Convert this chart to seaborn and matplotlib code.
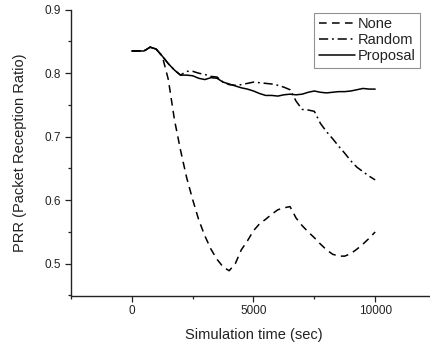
import numpy as np
import pandas as pd
import matplotlib
matplotlib.use("Agg")
import matplotlib.pyplot as plt
import matplotlib.ticker as mticker
import seaborn as sns

# data (every 250 s)
sim_time = list(range(0, 10001, 250))

prr_none = [0.835, 0.835, 0.835, 0.841, 0.838, 0.827, 0.790, 0.727, 0.679, 0.636,
            0.601, 0.569, 0.544, 0.523, 0.507, 0.495, 0.489, 0.500, 0.522, 0.536,
            0.552, 0.563, 0.570, 0.578, 0.585, 0.588, 0.590, 0.572, 0.560, 0.550,
            0.541, 0.531, 0.522, 0.515, 0.512, 0.512, 0.516, 0.523, 0.531, 0.540, 0.550]
prr_random = [0.835, 0.835, 0.835, 0.841, 0.838, 0.827, 0.815, 0.805, 0.797, 0.803,
              0.803, 0.800, 0.798, 0.795, 0.794, 0.786, 0.782, 0.781, 0.782, 0.784,
              0.786, 0.785, 0.784, 0.783, 0.781, 0.778, 0.774, 0.756, 0.743, 0.742,
              0.740, 0.721, 0.708, 0.697, 0.685, 0.674, 0.662, 0.652, 0.645, 0.638, 0.632]
prr_proposal = [0.835, 0.835, 0.835, 0.841, 0.838, 0.827, 0.815, 0.805, 0.797, 0.797,
                0.796, 0.792, 0.790, 0.793, 0.792, 0.786, 0.783, 0.780, 0.777, 0.775,
                0.772, 0.768, 0.765, 0.765, 0.764, 0.766, 0.767, 0.766, 0.767, 0.770,
                0.772, 0.770, 0.769, 0.770, 0.771, 0.771, 0.772, 0.774, 0.776, 0.775, 0.775]

series = {
    'None': (prr_none, (0, (5, 3.5))),
    'Random': (prr_random, (0, (6, 2.5, 1.2, 2.5))),
    'Proposal': (prr_proposal, '-'),
}

sns.set_theme(style="ticks")
plt.rcParams['font.family'] = ['Liberation Sans', 'DejaVu Sans']

fig = plt.figure(figsize=(4.31, 3.47), dpi=100)
ax = fig.add_axes([71 / 431, 1 - 295.5 / 347, 365 / 431, 285.8 / 347])

for name, (vals, ls) in series.items():
    sns.lineplot(x=sim_time, y=vals, ax=ax, color='black', linestyle=ls,
                 linewidth=1.1, label=name)

ax.set_xlim(-2500, 12500)
ax.set_ylim(0.45, 0.9)
ax.xaxis.set_major_locator(mticker.FixedLocator([0, 5000, 10000]))
ax.xaxis.set_minor_locator(mticker.MultipleLocator(2500))
ax.yaxis.set_major_locator(mticker.MultipleLocator(0.1))
ax.yaxis.set_minor_locator(mticker.MultipleLocator(0.05))
ax.yaxis.set_major_formatter(mticker.FormatStrFormatter('%.1f'))

for s in ['top', 'right']:
    ax.spines[s].set_visible(False)
for s in ['left', 'bottom']:
    ax.spines[s].set_color('#222222')
    ax.spines[s].set_linewidth(1.0)

ax.tick_params(which='major', direction='out', length=4, width=0.9,
               labelsize=8.5, colors='#222222', pad=3)
ax.tick_params(which='minor', direction='out', length=2.5, width=0.9, colors='#222222')

ax.set_xlabel("Simulation time (sec)", fontsize=10.5, color='#222222', labelpad=8)
ax.set_ylabel("PRR (Packet Reception Ratio)", fontsize=10.5, color='#222222', labelpad=13)

leg = ax.legend(loc='upper right', bbox_to_anchor=(0.957, 0.99), borderaxespad=0,
                fontsize=10.5, handlelength=2.5, handletextpad=0.2,
                borderpad=0.3, labelspacing=0.15, fancybox=False, frameon=True)
leg.get_frame().set_edgecolor('#777777')
leg.get_frame().set_linewidth(0.8)
for t in leg.get_texts():
    t.set_color('#222222')

fig.savefig("out.png", dpi=100)
